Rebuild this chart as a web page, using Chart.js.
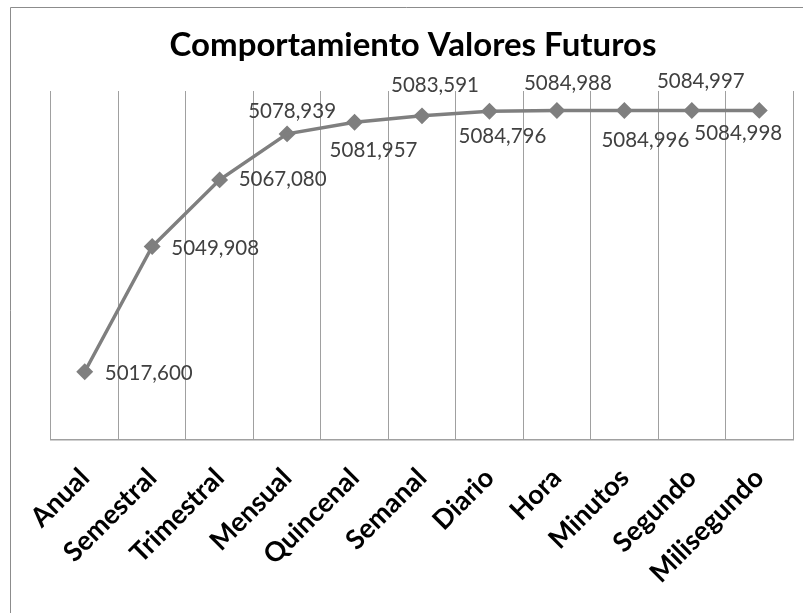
<!DOCTYPE html>
<html>
<head>
<meta charset="utf-8">
<script src="https://cdn.jsdelivr.net/npm/chart.js@4"></script>
<style>
  html, body { margin: 0; padding: 0; background: #fff; }
  #wrap { position: relative; width: 803px; height: 613px; }
</style>
</head>
<body>
<div id="wrap"><canvas id="chart"></canvas></div>
<script>
const TITLE = "Comportamiento Valores Futuros";
const PERIODOS = ["Anual", "Semestral", "Trimestral", "Mensual", "Quincenal", "Semanal",
  "Diario", "Hora", "Minutos", "Segundo", "Milisegundo"];
const VALORES = [5017.600, 5049.908, 5067.080, 5078.939, 5081.957, 5083.591,
  5084.796, 5084.988, 5084.996, 5084.997, 5084.998];
const Y_MIN = 5000;
const Y_MAX = 5090;

// where each value label sits relative to its marker (px)
const LABEL_POS = [[64, 2], [63, 2], [63, 0], [5, -23], [19, 28], [13, -30],
  [13, 25], [11, -27], [21, 30], [9, -29], [-21, 23]];

const GRAY = "#7f7f7f";
const GRID = "#a0a0a0";
const fmt = (n) => n.toFixed(3).replace(".", ",");

const frame = {
  id: "frame",
  beforeDraw(c) {
    const ctx = c.ctx;
    ctx.save();
    ctx.strokeStyle = "#8c8c8c";
    ctx.lineWidth = 1;
    ctx.beginPath();
    ctx.moveTo(10.5, c.height);
    ctx.lineTo(10.5, 7.5);
    ctx.lineTo(c.width, 7.5);
    ctx.stroke();
    ctx.fillStyle = "#000";
    ctx.font = "bold 33px Lato";
    ctx.textAlign = "center";
    ctx.textBaseline = "alphabetic";
    ctx.fillText(TITLE, 413, 56);
    ctx.restore();
  },
};

const valueLabels = {
  id: "valueLabels",
  afterDatasetsDraw(c) {
    const ctx = c.ctx;
    const pts = c.getDatasetMeta(0).data;
    ctx.save();
    ctx.fillStyle = "#404040";
    ctx.font = "20.5px Lato";
    ctx.textAlign = "center";
    ctx.textBaseline = "middle";
    pts.forEach((p, i) => {
      const [dx, dy] = LABEL_POS[i];
      ctx.fillText(fmt(VALORES[i]), p.x + dx, p.y + dy);
    });
    ctx.restore();
  },
};

new Chart(document.getElementById("chart"), {
  type: "line",
  data: {
    labels: PERIODOS,
    datasets: [{
      data: VALORES,
      borderColor: GRAY,
      backgroundColor: GRAY,
      borderWidth: 3.5,
      pointStyle: "rectRot",
      pointRadius: 6,
      pointBackgroundColor: GRAY,
      pointBorderColor: GRAY,
      tension: 0,
    }],
  },
  options: {
    responsive: true,
    maintainAspectRatio: false,
    animation: false,
    layout: { padding: { top: 91, left: 51, right: 10, bottom: 0 } },
    plugins: { legend: { display: false }, tooltip: { enabled: false }, title: { display: false } },
    scales: {
      x: {
        offset: true,
        afterFit: (s) => {
          s.height = 173;
          s.paddingLeft = 0;
          s.paddingRight = 0;
        },
        grid: { offset: true, color: GRID, lineWidth: 1, drawTicks: false },
        border: { color: GRID, width: 1.5 },
        ticks: {
          color: "#000",
          font: { family: "Lato", weight: "bold", size: 27 },
          maxRotation: 45,
          minRotation: 45,
          padding: 22,
        },
      },
      y: { display: false, min: Y_MIN, max: Y_MAX },
    },
  },
  plugins: [frame, valueLabels],
});
</script>
</body>
</html>
